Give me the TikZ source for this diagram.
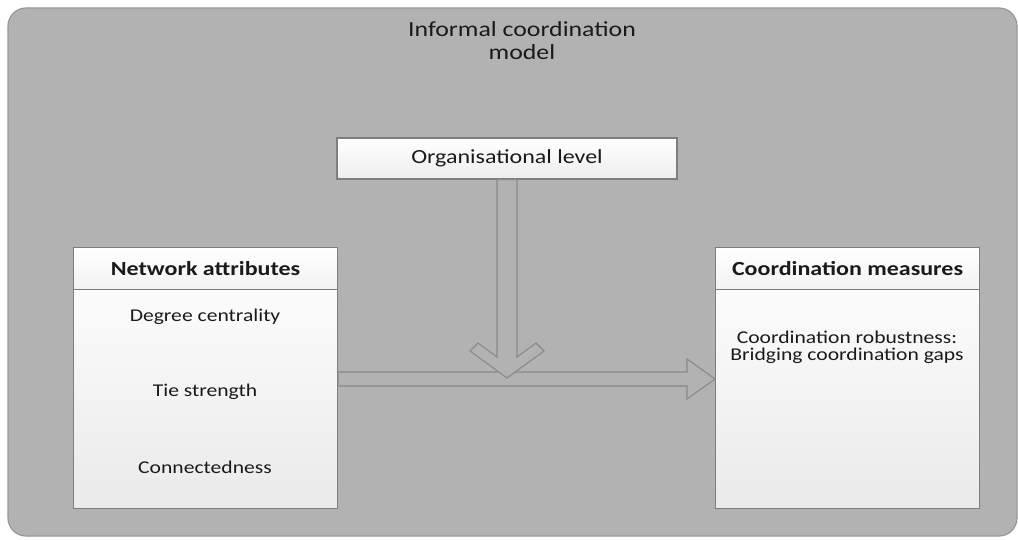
\documentclass[tikz,border=0pt]{standalone}
\usepackage{fontspec}
\setmainfont{Carlito}[FakeStretch=1.2]
\usetikzlibrary{calc}
\definecolor{panel}{HTML}{B2B2B2}
\definecolor{edge}{HTML}{7E7E7E}
\definecolor{arrowedge}{HTML}{8A8A8A}
\definecolor{boxlow}{HTML}{EAEAEA}
\definecolor{ink}{HTML}{1A1A1A}
\tikzset{
  panelbox/.style={draw=edge!80, fill=panel, line width=1.2pt, rounded corners=18pt},
  listbox/.style={draw=edge, line width=1.1pt, top color=white, bottom color=boxlow,
    minimum width=264pt, minimum height=261pt, anchor=north west, inner sep=0pt},
  headbox/.style={draw=edge, line width=1.1pt, top color=white, bottom color=white!95!black,
    minimum width=264pt, minimum height=42pt, anchor=north west, inner sep=0pt,
    font=\fontsize{20}{23}\selectfont\bfseries, text=ink},
  levelbox/.style={draw=edge, line width=1.1pt, top color=white, bottom color=white!93!black,
    minimum width=340pt, minimum height=41pt, inner sep=0pt,
    font=\fontsize{20}{23}\selectfont, text=ink},
  item/.style={font=\fontsize{18}{17}\selectfont, text=ink, align=center, inner sep=0pt},
  blockarrow/.style={draw=arrowedge, fill=panel, line width=1.1pt, line join=miter}
}
\begin{document}
\begin{tikzpicture}[x=1pt,y=-1pt]
\useasboundingbox (0,0) rectangle (1018,540);
% outer panel
\draw[panelbox] (8,8) rectangle (1017,536);
\node[item, font=\fontsize{21.5}{23}\selectfont] (title) at (522,41) {Informal coordination\\model};

% organisational level
\node[levelbox] (org) at (507,158.5) {Organisational level};

% left list: network attributes
\node[listbox] (na) at (73,247) {};
\node[headbox] (nah) at (73,247) {Network attributes};
\node[item] (dc) at (205,317) {Degree centrality};
\node[item] (ts) at (205,392) {Tie strength};
\node[item] (cn) at (205,467) {Connectedness};

% right list: coordination measures
\node[listbox] (cm) at (715,247) {};
\node[headbox] (cmh) at (715,247) {Coordination measures};
\node[item] (cr) at (847,347) {Coordination robustness:\\Bridging coordination gaps};

% horizontal block arrow from attributes to measures
\coordinate (h0) at (0,379);
\coordinate (ha) at (na.east |- h0);
\coordinate (hb) at (cm.west |- h0);
\filldraw[blockarrow]
  ($(ha)+(0,-7)$) -- ($(hb)+(-28,-7)$) -- ($(hb)+(-28,-20)$) -- (hb)
  -- ($(hb)+(-28,20)$) -- ($(hb)+(-28,7)$) -- ($(ha)+(0,7)$) -- cycle;

% vertical chevron arrow from organisational level
\coordinate (vt) at ($(org.south |- h0)+(0,-1)$);
\filldraw[blockarrow]
  ($(org.south)+(-10,0)$) -- ($(vt)+(-10,-21)$) -- ($(vt)+(-29,-35)$)
  -- ($(vt)+(-37,-27)$) -- (vt) -- ($(vt)+(37,-27)$) -- ($(vt)+(29,-35)$)
  -- ($(vt)+(10,-21)$) -- ($(org.south)+(10,0)$) -- cycle;
\end{tikzpicture}
\end{document}
